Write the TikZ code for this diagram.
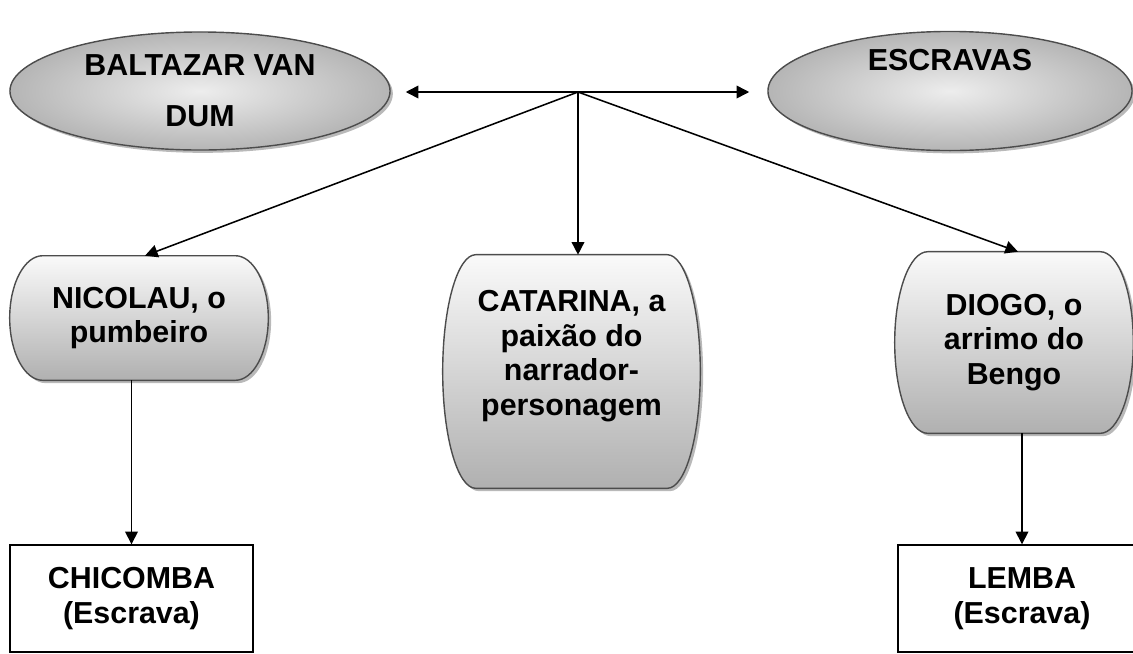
\documentclass[tikz,border=0pt]{standalone}
\usepackage{fontspec}
\setmainfont{Liberation Sans}
\usetikzlibrary{positioning,arrows.meta,shapes.geometric,shadows,backgrounds,calc}

\begin{document}
\begin{tikzpicture}[x=0.025cm,y=-0.025cm,>={Triangle[length=9pt,width=9pt]},
  font=\fontsize{21.6}{24.5}\selectfont\bfseries]
  \tikzstyle{oval}=[ellipse,draw=gray!60!black,line width=1pt,inner sep=0pt,align=center,
    font=\fontsize{21.6}{36}\selectfont\bfseries,
    shading=radial,inner color=gray!14,outer color=gray!58,
    drop shadow={shadow xshift=2pt,shadow yshift=-2pt,fill=gray!55,opacity=1}]
  \tikzstyle{term}=[align=center,inner sep=0pt]
  \tikzstyle{termbg}=[draw=gray!60!black,line width=1pt,top color=gray!4,bottom color=gray!62,
    drop shadow={shadow xshift=2pt,shadow yshift=-2pt,fill=gray!55,opacity=1}]
  \tikzstyle{slave}=[draw,line width=1pt,align=center,minimum height=2.675cm]
  \tikzstyle{link}=[->,line width=1.1pt]
  \useasboundingbox (0,0) rectangle (1133,653);

  % top ovals
  \node[oval,minimum width=9.5cm,minimum height=2.95cm] (baltazar) at (200,91) {BALTAZAR VAN\\DUM};
  \node[oval,minimum width=9.1cm,minimum height=2.95cm] (escravas) at (950,91) {ESCRAVAS\\[-2pt]\strut};

  % characters
  \node[term,minimum width=6.45cm,minimum height=3.1cm] (nicolau) at (139,318) {NICOLAU, o\\pumbeiro};
  \node[term,minimum width=6.425cm,minimum height=5.825cm] (catarina) at (571.5,371.5) {CATARINA, a\\paixão do\\narrador-\\personagem\\[2pt]};
  \node[term,minimum width=5.95cm,minimum height=4.525cm] (diogo) at (1014,342.5) {DIOGO, o\\arrimo do\\Bengo};
  \begin{scope}[on background layer]
    \foreach \nd in {nicolau,catarina,diogo}
      \path[termbg] let \p1=(\nd.north), \p2=(\nd.south), \n1={(\y1-\y2)/2} in
        ([xshift=0.825cm]\nd.north west) -- ([xshift=-0.825cm]\nd.north east)
        arc[start angle=90,end angle=-90,x radius=0.825cm,y radius=\n1]
        -- ([xshift=0.825cm]\nd.south west)
        arc[start angle=270,end angle=90,x radius=0.825cm,y radius=\n1] -- cycle;
  \end{scope}

  % slaves
  \node[slave,minimum width=6.075cm] (chicomba) at (131.5,598.5) {CHICOMBA\\(Escrava)};
  \node[slave,minimum width=6.2cm] (lemba) at (1022,598.5) {LEMBA\\(Escrava)};

  \coordinate (hub) at (578,92);
  \draw[link,shorten >=0.375cm] (hub) -- (hub -| baltazar.east);
  \draw[link,shorten >=0.45cm] (hub) -- (hub -| escravas.west);
  \draw[link] (hub) -- ([xshift=0.15cm]nicolau.north);
  \draw[link] (hub) -- (hub |- catarina.north);
  \draw[link] (hub) -- ([xshift=0.1cm]diogo.north);
  \draw[link] (chicomba.north |- nicolau.south) -- (chicomba.north);
  \draw[link] (lemba.north |- diogo.south) -- (lemba.north);
\end{tikzpicture}
\end{document}
